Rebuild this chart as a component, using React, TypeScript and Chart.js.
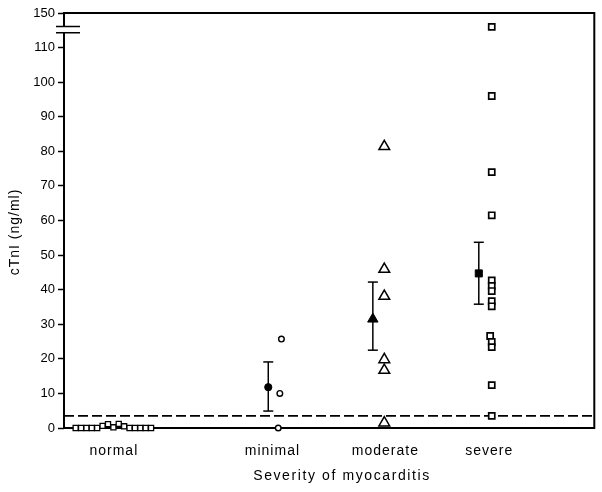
import React, { useEffect, useRef } from 'react';
import { Chart, registerables } from 'chart.js';

Chart.register(...registerables);

// ---- data ----
const categories = ['normal', 'minimal', 'moderate', 'severe'];
const categoryX = [0.47, 1.965, 3.03, 4.01];

const yMax = 120; // linear part continues above the break
const topTickLabel = '150';
const breakLow = 114.3;
const breakHigh = 116.1;

const normalX = [0.11, 0.161, 0.212, 0.262, 0.313, 0.364, 0.415, 0.466, 0.516, 0.567, 0.618, 0.669, 0.72, 0.77, 0.821];
const normalY = [0, 0, 0, 0, 0, 0.6, 1.1, 0.2, 1.2, 0.5, 0, 0, 0, 0, 0];

const minimalX = [2.05, 2.035, 2.02];
const minimalY = [25.7, 10.0, 0];
const minimalMeanX = 1.926;
const minimalMean = 11.8;
const minimalErr = [4.9, 19.1];

const moderateX = [3.02, 3.02, 3.02, 3.02, 3.02, 3.02];
const moderateY = [81.4, 45.9, 38.1, 19.8, 16.7, 1.5];
const moderateMeanX = 2.912;
const moderateMean = 31.5;
const moderateErr = [22.5, 42.2];

const severeX = [4.033, 4.033, 4.033, 4.033, 4.033, 4.033, 4.033, 4.033, 4.033, 4.018, 4.033, 4.033, 4.033, 4.033];
const severeY = [116.0, 96.0, 74.0, 61.5, 42.7, 41.1, 39.6, 36.7, 35.2, 26.6, 24.9, 23.4, 12.4, 3.5];
const severeMeanX = 3.911;
const severeMean = 44.7;
const severeErr = [35.8, 53.7];

const thresholdY = 3.5;
const xRange = [0, 5];

const xTitle = 'Severity of myocarditis';
const yTitle = 'cTnI (ng/ml)';

const pts = (xs: number[], ys: number[]) => ys.map((v, i) => ({ x: xs[i], y: v }));

const decorPlugin = {
  id: 'decor',
  beforeDatasetsDraw(chart: any) {
    const { ctx, chartArea: a, scales } = chart;
    const x = scales.x;
    const y = scales.y;
    ctx.save();
    ctx.strokeStyle = '#000';
    ctx.lineWidth = 2;
    ctx.strokeRect(a.left, a.top, a.right - a.left, a.bottom - a.top);

    const b1 = y.getPixelForValue(breakHigh);
    const b2 = y.getPixelForValue(breakLow);
    ctx.fillStyle = '#fff';
    ctx.fillRect(a.left - 2, b1, 4, b2 - b1);
    ctx.lineWidth = 1.5;
    ctx.beginPath();
    ctx.moveTo(a.left - 8, b1);
    ctx.lineTo(a.left + 16, b1);
    ctx.moveTo(a.left - 8, b2);
    ctx.lineTo(a.left + 16, b2);
    ctx.stroke();

    ctx.fillStyle = '#000';
    ctx.font = '14px "Liberation Sans", Arial, sans-serif';
    (ctx as any).letterSpacing = '1px';
    ctx.textAlign = 'center';
    ctx.textBaseline = 'alphabetic';
    categories.forEach((c, i) => {
      ctx.fillText(c, x.getPixelForValue(categoryX[i]), a.bottom + 27);
    });

    ctx.font = '14px "Liberation Sans", Arial, sans-serif';
    (ctx as any).letterSpacing = '1.6px';
    ctx.fillText(xTitle, 342, a.bottom + 52);

    (ctx as any).letterSpacing = '1px';
    ctx.translate(15, 232);
    ctx.rotate(-Math.PI / 2);
    ctx.textBaseline = 'middle';
    ctx.fillText(yTitle, 0, 0);
    ctx.restore();
  },
};

export default function App() {
  const ref = useRef<HTMLCanvasElement>(null);

  useEffect(() => {
    if (!ref.current) return;
    const black = '#000';
    const openPts = (data: any[], style: string, r: number, bw: number) => ({
      data,
      showLine: false,
      pointStyle: style,
      pointRadius: r,
      pointBorderWidth: bw,
      pointBorderColor: black,
      pointBackgroundColor: '#fff',
      clip: false,
    });
    const filledPt = (data: any[], style: string, r: number) => ({
      data,
      showLine: false,
      pointStyle: style,
      pointRadius: r,
      pointBorderWidth: 1,
      pointBorderColor: black,
      pointBackgroundColor: black,
      clip: false,
    });
    const errBar = (xv: number, lohi: number[]) => ({
      data: [{ x: xv, y: lohi[0] }, { x: xv, y: lohi[1] }],
      showLine: true,
      borderColor: black,
      borderWidth: 1.5,
      pointStyle: 'line',
      pointRadius: 5,
      pointBorderWidth: 1.5,
      pointBorderColor: black,
      clip: false,
    });

    const chart = new Chart(ref.current, {
      type: 'scatter',
      data: {
        datasets: [
          filledPt([{ x: minimalMeanX, y: minimalMean }], 'circle', 3.6),
          filledPt([{ x: moderateMeanX, y: moderateMean }], 'triangle', 6),
          filledPt([{ x: severeMeanX, y: severeMean }], 'rect', 5),
          errBar(minimalMeanX, minimalErr),
          errBar(moderateMeanX, moderateErr),
          errBar(severeMeanX, severeErr),
          openPts(pts(normalX, normalY), 'rect', 3.6, 1.3),
          openPts(pts(minimalX, minimalY), 'circle', 2.8, 1.4),
          openPts(pts(moderateX, moderateY), 'triangle', 6.2, 1.5),
          openPts(pts(severeX, severeY), 'rect', 4.3, 1.7),
          {
            data: [{ x: xRange[0], y: thresholdY }, { x: xRange[1], y: thresholdY }],
            showLine: true,
            borderColor: black,
            borderWidth: 1.6,
            borderDash: [10, 4],
            pointRadius: 0,
            clip: false,
          },
        ] as any,
      },
      options: {
        animation: false,
        responsive: false,
        events: [],
        layout: { padding: { top: 13, right: 7, left: 0, bottom: 0 } },
        plugins: {
          legend: { display: false },
          tooltip: { enabled: false },
        },
        scales: {
          x: {
            type: 'linear',
            min: xRange[0],
            max: xRange[1],
            ticks: { display: false },
            grid: { display: false },
            border: { display: false },
            afterFit: (s: any) => { s.height = 64; },
          },
          y: {
            type: 'linear',
            min: 0,
            max: yMax,
            ticks: {
              stepSize: 10,
              padding: 3,
              color: black,
              font: { family: '"Liberation Sans", Arial, sans-serif', size: 13 },
              callback: (v: any) => (v === yMax ? topTickLabel : String(v)),
            },
            grid: {
              drawOnChartArea: false,
              drawTicks: true,
              tickLength: 6,
              tickColor: black,
              tickWidth: 1.5,
            },
            border: { display: false },
            afterFit: (s: any) => { s.width = 64; },
          },
        },
      } as any,
      plugins: [decorPlugin],
    });
    return () => chart.destroy();
  }, []);

  return (
    <div style={{ position: 'absolute', left: 0, top: 0, width: 602, height: 492, background: '#fff' }}>
      <canvas ref={ref} width={602} height={492} style={{ display: 'block' }} />
    </div>
  );
}
